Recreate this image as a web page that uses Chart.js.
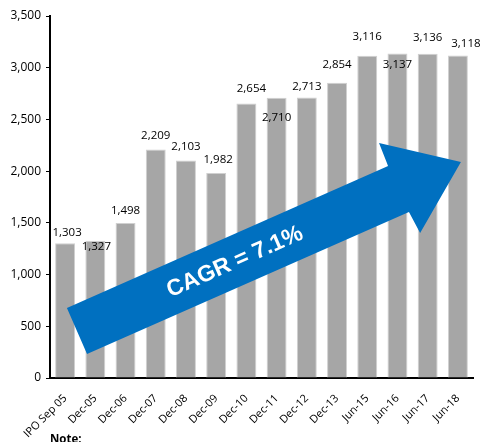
<!DOCTYPE html>
<html>
<head>
<meta charset="utf-8">
<script src="https://cdn.jsdelivr.net/npm/chart.js@4.4.1/dist/chart.umd.min.js"></script>
<style>
  html, body { margin: 0; padding: 0; background: #ffffff; }
  #wrap { width: 484px; height: 442px; position: relative; }
</style>
</head>
<body>
<div id="wrap"><canvas id="c" width="484" height="442"></canvas></div>
<script>
// ---- data ----
const categories = ['IPO Sep 05', 'Dec-05', 'Dec-06', 'Dec-07', 'Dec-08', 'Dec-09', 'Dec-10',
                    'Dec-11', 'Dec-12', 'Dec-13', 'Jun-15', 'Jun-16', 'Jun-17', 'Jun-18'];
const values = [1303, 1327, 1498, 2209, 2103, 1982, 2654, 2710, 2713, 2854, 3116, 3137, 3136, 3118];
const yTickValues = [0, 500, 1000, 1500, 2000, 2500, 3000, 3500];
const cagrText = 'CAGR = 7.1%';
const noteText = 'Note:';

// ---- styling (label nudges in px relative to bar top / centre) ----
const labelShift = [[2,-11],[1,6],[0,-12],[0,-14],[0,-14],[2,-13],[5,-15],
                    [0,20],[0,-11],[0,-18],[0,-19],[0,11],[0,-16],[8,-12]];
// arrow outline in scale units (category index, value)
const arrowShape = [[0.06,677],[10.69,2050],[10.39,2272],[13.1,2088],[11.75,1402],[11.38,1605],[0.725,232]];
const arrowTextPos = [5.62, 1121];

const fmt = v => v.toLocaleString('en-US');

const arrowPlugin = {
  id: 'arrow',
  afterDatasetsDraw(chart) {
    const {ctx, scales: {x, y}} = chart;
    const px = i => x.getPixelForValue(0) + (x.getPixelForValue(1) - x.getPixelForValue(0)) * i;
    ctx.save();
    ctx.beginPath();
    arrowShape.forEach((p, k) => {
      const X = px(p[0]), Y = y.getPixelForValue(p[1]);
      if (k === 0) ctx.moveTo(X, Y); else ctx.lineTo(X, Y);
    });
    ctx.closePath();
    ctx.fillStyle = '#0070C0';
    ctx.fill();
    const a = arrowShape[0], b = arrowShape[1];
    const ang = Math.atan2(y.getPixelForValue(b[1]) - y.getPixelForValue(a[1]), px(b[0]) - px(a[0]));
    ctx.translate(px(arrowTextPos[0]), y.getPixelForValue(arrowTextPos[1]));
    ctx.rotate(ang);
    ctx.fillStyle = '#ffffff';
    ctx.font = 'bold 23px "Liberation Sans", Arial, sans-serif';
    ctx.textAlign = 'center';
    ctx.textBaseline = 'middle';
    ctx.fillText(cagrText, 0, 0);
    ctx.restore();
  }
};

const labelPlugin = {
  id: 'vlabels',
  afterDraw(chart) {
    const {ctx} = chart;
    const meta = chart.getDatasetMeta(0);
    ctx.save();
    ctx.font = '11.5px "Open Sans", sans-serif';
    ctx.fillStyle = '#000000';
    ctx.textAlign = 'center';
    ctx.textBaseline = 'middle';
    meta.data.forEach((bar, i) => {
      const s = labelShift[i];
      ctx.fillText(fmt(values[i]), bar.x + s[0], bar.y + s[1]);
    });
    ctx.font = 'bold 11.5px "Open Sans", sans-serif';
    ctx.textAlign = 'left';
    ctx.textBaseline = 'top';
    ctx.fillText(noteText, 50, 434);
    ctx.restore();
  }
};

new Chart(document.getElementById('c'), {
  type: 'bar',
  data: {
    labels: categories,
    datasets: [{
      data: values,
      backgroundColor: '#A6A6A6',
      borderColor: '#D0D0D0',
      borderWidth: 1,
      barPercentage: 0.66,
      categoryPercentage: 1.0
    }]
  },
  options: {
    responsive: false,
    animation: false,
    devicePixelRatio: 1,
    layout: { padding: { top: 16, right: 11, left: 0, bottom: 0 } },
    plugins: { legend: { display: false }, tooltip: { enabled: false } },
    scales: {
      x: {
        grid: { drawOnChartArea: false, drawTicks: false },
        border: { color: '#000000', width: 2 },
        ticks: {
          maxRotation: 45, minRotation: 45, color: '#000000', padding: 14,
          font: { family: '"Open Sans", sans-serif', size: 11 }
        },
        afterFit(s) { s.height = 64; }
      },
      y: {
        min: 0, max: 3500,
        afterBuildTicks(s) { s.ticks = yTickValues.map(v => ({ value: v })); },
        grid: { drawOnChartArea: false, drawTicks: true, tickLength: 4, color: '#000000', lineWidth: 1 },
        border: { color: '#000000', width: 2 },
        ticks: {
          color: '#000000', padding: 5,
          font: { family: '"Open Sans", sans-serif', size: 12 },
          callback: v => fmt(v)
        },
        afterFit(s) { s.width = 50; }
      }
    }
  },
  plugins: [arrowPlugin, labelPlugin]
});
</script>
</body>
</html>
